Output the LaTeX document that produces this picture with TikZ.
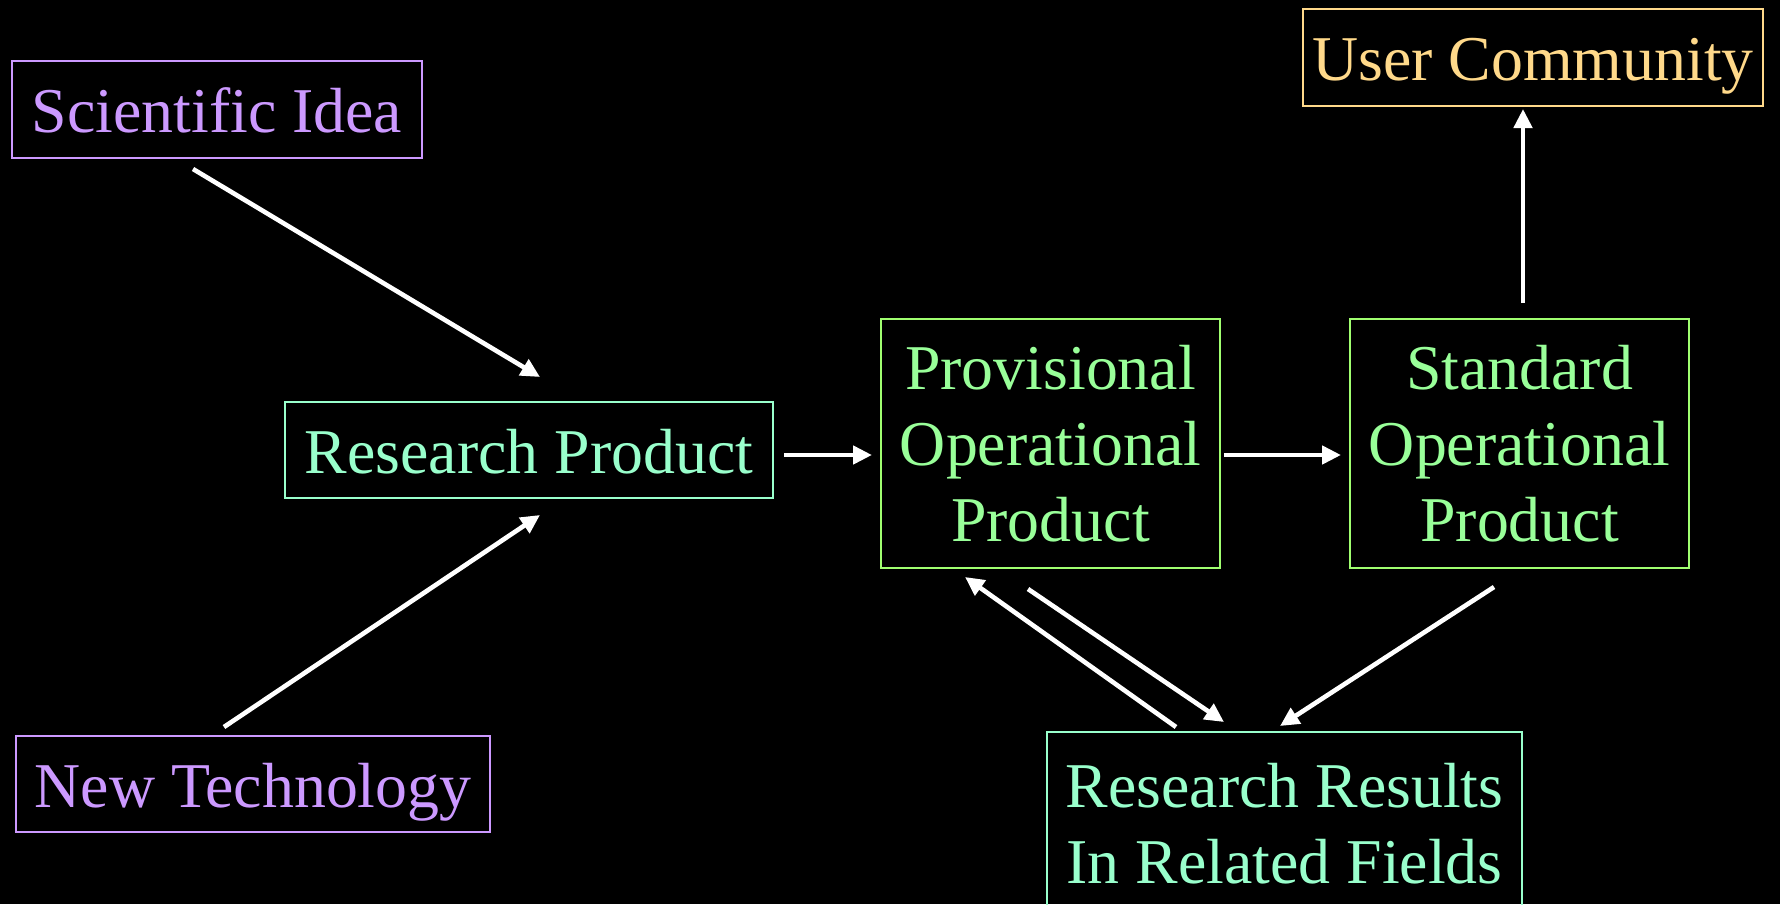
\documentclass[tikz,border=0pt]{standalone}
\usepackage{fontspec}
\setmainfont{Liberation Serif}
\usetikzlibrary{arrows.meta,calc}
\definecolor{purp}{HTML}{CC99FF}
\definecolor{gold}{HTML}{FFD98A}
\definecolor{aqua}{HTML}{99FFCC}
\definecolor{lgreen}{HTML}{99FF99}
\definecolor{gborder}{HTML}{A0FF70}
\tikzset{
  box/.style={draw, line width=1pt, inner sep=0pt, align=center,
    font=\fontsize{31.9}{38}\selectfont},
  oneline/.style={text height=30pt, text depth=6.5pt},
  purpbox/.style={box, oneline, draw=purp, text=purp},
  goldbox/.style={box, oneline, draw=gold, text=gold},
  aquabox/.style={box, draw=aqua, text=aqua},
  greenbox/.style={box, draw=gborder, text=lgreen},
  arr/.style={draw=white, line width=2.3pt, -{Triangle[length=9.5pt,width=9pt]}}
}
\begin{document}
\begin{tikzpicture}[x=0.5pt,y=-0.5pt]
\fill[black] (0,0) rectangle (1780,904);
\useasboundingbox (0,0) rectangle (1780,904);
\node[purpbox, minimum width=205pt, minimum height=48.5pt] (sci) at (217,109.5) {Scientific Idea};
\node[goldbox, minimum width=230pt, minimum height=48.5pt] (user) at (1533,57.5) {User Community};
\node[aquabox, oneline, minimum width=244pt, minimum height=48pt] (rp) at (529,450) {Research Product};
\node[greenbox, minimum width=169.5pt, minimum height=124.5pt] (prov) at (1050.5,443.5) {Provisional\\Operational\\Product};
\node[greenbox, minimum width=169.5pt, minimum height=124.5pt] (std) at (1519.5,443.5) {Standard\\Operational\\Product};
\node[purpbox, minimum width=237pt, minimum height=48pt] (newt) at (253,784) {New Technology};
\node[aquabox, minimum width=237.5pt, minimum height=91.5pt] (rr) at (1284.5,823.5) {Research Results\\In Related Fields};

\draw[arr] ($(sci.south)+(-24,10)$) -- ($(rp.north)+(11,-24)$);
\draw[arr] ($(newt.north)+(-29,-8)$) -- ($(rp.south)+(11,16)$);
\draw[arr] ($(rp.east)+(10,5)$) -- ($(prov.west)+(-8,11.5)$);
\draw[arr] ($(prov.east)+(3,11.5)$) -- ($(std.west)+(-8,11.5)$);
\draw[arr] ($(std.north)+(3.5,-15)$) -- ($(user.south)+(-10,2)$);
\draw[arr] ($(rr.north)+(-108.5,-4)$) -- ($(prov.south)+(-85.5,8)$);
\draw[arr] ($(prov.south)+(-22.5,20)$) -- ($(rr.north)+(-60.5,-9)$);
\draw[arr] ($(std.south)+(-25.5,18)$) -- ($(rr.north)+(-4.5,-5)$);
\end{tikzpicture}
\end{document}
